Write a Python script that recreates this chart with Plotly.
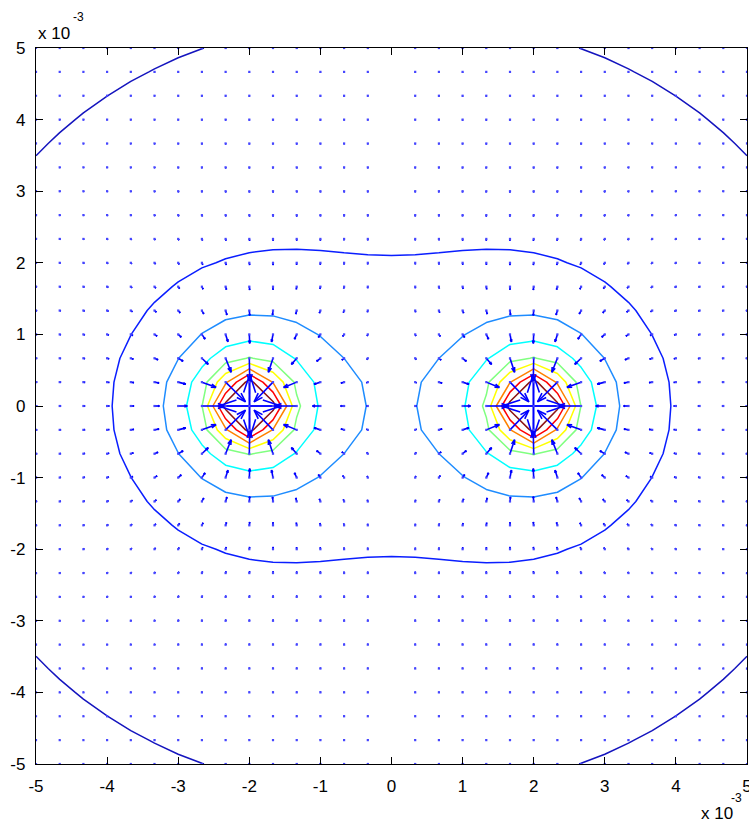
import numpy as np
import plotly.graph_objects as go

# ---------------- data ----------------
charge_x = [-2.0, 2.0]          # charge positions (x 10^-3 m)
charge_y = [0.0, 0.0]
charge_q = [1.0, 1.0]
peak_potential = 6.45           # value used at the singular grid node
grid_min, grid_max, grid_n = -5.0, 5.0, 31
quiver_skip_x = [0.0]           # grid column without arrows in the original
contour_levels = [0.345, 0.69, 1.035, 1.38, 1.725, 2.07, 2.415, 2.76, 3.105]
level_colors = ['rgb(20,20,190)', 'rgb(10,30,255)', 'rgb(30,140,255)', 'rgb(0,255,255)',
                'rgb(128,255,128)', 'rgb(255,255,0)', 'rgb(255,128,0)',
                'rgb(255,0,0)', 'rgb(140,20,20)']
arrow_scale = 0.11
arrow_color = 'rgb(0,0,255)'
dot_color = 'rgb(70,70,255)'
tick_values = [-5, -4, -3, -2, -1, 0, 1, 2, 3, 4, 5]
tick_labels = ['-5', '-4', '-3', '-2', '-1', '0', '1', '2', '3', '4', '5']

# ---------------- field ----------------
xs = np.linspace(grid_min, grid_max, grid_n)
ys = np.linspace(grid_min, grid_max, grid_n)
X, Y = np.meshgrid(xs, ys)
V = np.zeros_like(X)
sing = np.zeros_like(X, dtype=bool)
for cx, cy, q in zip(charge_x, charge_y, charge_q):
    r = np.hypot(X - cx, Y - cy)
    s = r < 1e-9
    sing |= s
    V += np.where(s, 0.0, q / np.where(s, 1.0, r))
V[sing] = peak_potential

gy, gx = np.gradient(V, ys, xs)
U = arrow_scale * gx
W = arrow_scale * gy

fig = go.Figure()

for lvl, col in zip(contour_levels, level_colors):
    fig.add_trace(go.Contour(
        x=xs, y=ys, z=V,
        contours=dict(start=lvl, end=lvl, size=1.0, coloring='lines'),
        colorscale=[[0, col], [1, col]],
        line=dict(width=1.5, smoothing=0),
        showscale=False, hoverinfo='skip'))

alpha, beta = 0.33, 0.33
lx, ly, px, py = [], [], [], []
for i in range(len(ys)):
    for j in range(len(xs)):
        x0, y0 = xs[j], ys[i]
        if any(abs(x0 - sx) < 1e-9 for sx in quiver_skip_x):
            continue
        u, v = U[i, j], W[i, j]
        px.append(x0); py.append(y0)
        lx += [x0, x0 + u, None]
        ly += [y0, y0 + v, None]
        lx += [x0 + u - alpha * (u + beta * v), x0 + u, x0 + u - alpha * (u - beta * v), None]
        ly += [y0 + v - alpha * (v - beta * u), y0 + v, y0 + v - alpha * (v + beta * u), None]

fig.add_trace(go.Scatter(x=lx, y=ly, mode='lines',
                         line=dict(color=arrow_color, width=1.6),
                         hoverinfo='skip', showlegend=False))
fig.add_trace(go.Scatter(x=px, y=py, mode='markers',
                         marker=dict(color=dot_color, size=2.2, symbol='square',
                                     line=dict(width=0)),
                         hoverinfo='skip', showlegend=False))

axis_common = dict(range=[-5, 5], tickvals=tick_values, ticktext=tick_labels,
                   showgrid=False, zeroline=False, showline=True, linecolor='black',
                   linewidth=1.3, mirror='ticks', ticks='inside', ticklen=7,
                   tickwidth=1.3, tickcolor='black', ticklabeloverflow='allow',
                   automargin=False,
                   tickfont=dict(family='Liberation Sans, Arial', size=17, color='black'))

fig.update_layout(
    width=749, height=827,
    margin=dict(l=36, r=2, t=48, b=63),
    paper_bgcolor='white', plot_bgcolor='white',
    showlegend=False,
    xaxis=dict(**axis_common, ticklabelstandoff=6),
    yaxis=dict(**axis_common, ticklabelstandoff=6),
    annotations=[
        dict(text='x 10', xref='paper', yref='paper', x=0.0, y=1.0, xanchor='left',
             yanchor='bottom', yshift=3, showarrow=False,
             font=dict(family='Liberation Sans, Arial', size=17, color='black')),
        dict(text='-3', xref='paper', yref='paper', x=0.0, y=1.0, xanchor='left',
             yanchor='bottom', xshift=35, yshift=22, showarrow=False,
             font=dict(family='Liberation Sans, Arial', size=12, color='black')),
        dict(text='x 10', xref='paper', yref='paper', x=1.0, y=0.0, xanchor='right',
             yanchor='top', xshift=-12, yshift=-38, showarrow=False,
             font=dict(family='Liberation Sans, Arial', size=17, color='black')),
        dict(text='-3', xref='paper', yref='paper', x=1.0, y=0.0, xanchor='right',
             yanchor='top', xshift=-3, yshift=-25, showarrow=False,
             font=dict(family='Liberation Sans, Arial', size=12, color='black')),
    ],
)

fig.write_html('out.html')
